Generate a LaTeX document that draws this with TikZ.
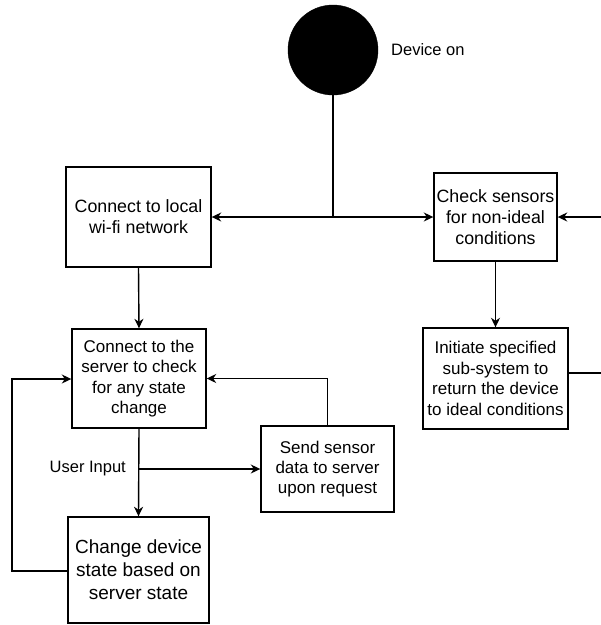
\documentclass[tikz,border=0pt]{standalone}
\usepackage{fontspec}
\setmainfont{Liberation Sans}
\usetikzlibrary{arrows.meta}
\tikzset{
  box/.style={draw=black, line width=1.4pt, fill=white, inner sep=0pt, align=center,
              font=\fontsize{17}{20.4}\selectfont},
  conn/.style={line width=1.4pt, draw=black},
  arr/.style={conn, -{Stealth[length=9.5pt,width=9pt,inset=3pt]}},
  lbl/.style={inner sep=0pt, font=\fontsize{16.5}{19.8}\selectfont},
}
\begin{document}
\begin{tikzpicture}[x=1pt,y=-1pt]
\useasboundingbox (0,0) rectangle (601,625);
\clip (0,0) rectangle (601,625);
\fill[white] (0,0) rectangle (601,625);

% start circle
\node[circle, fill=black, draw=black, minimum size=90pt, inner sep=0pt] (dev) at (333,50) {};
\node[lbl, anchor=west] (devlbl) at (391,50) {Device on};

% boxes
\node[box, minimum width=145pt, minimum height=100pt, font=\fontsize{17.8}{21}\selectfont] (wifi) at (138.5,217)
  {Connect to local\\wi-fi network};
\node[box, minimum width=123pt, minimum height=88pt, font=\fontsize{17.8}{20.7}\selectfont] (check) at (495.5,217)
  {Check sensors\\for non-ideal\\conditions};
\node[box, minimum width=145pt, minimum height=101pt] (init) at (495.5,378.5)
  {Initiate specified\\sub-system to\\return the device\\to ideal conditions};
\node[box, minimum width=134pt, minimum height=99pt] (server) at (139,378.5)
  {Connect to the\\server to check\\for any state\\change};
\node[box, minimum width=133pt, minimum height=86pt] (send) at (327.5,469)
  {Send sensor\\data to server\\upon request};
\node[box, minimum width=141pt, minimum height=106pt, font=\fontsize{19}{23}\selectfont] (change) at (138.5,570)
  {Change device\\state based on\\server state};

% junctions and free ends
\coordinate (j1) at (333,217);
\coordinate (ui) at (139,469);
\coordinate (r1) at (630,373);
\coordinate (r2) at (630,217);
\coordinate (l1) at (12,571);
\coordinate (l2) at (12,379);
\node[lbl, anchor=east] (uilbl) at (126,469) {User Input};

% connectors
\draw[conn] (dev.south) -- (j1);
\draw[arr] (j1) -- (wifi.east);
\draw[arr] (j1) -- (check.west);
\draw[arr] (wifi.south) -- (server.north);
\draw[arr] (check.south) -- (init.north);
\draw[arr] (init.east |- r1) -- (r1) -- (r2) -- (check.east);
\draw[arr] (server.south) -- (change.north);
\draw[arr] (ui) -- (send.west);
\draw[arr] (send.north) -- (send.north |- server.east) -- (server.east);
\draw[arr] (change.west |- l1) -- (l1) -- (l2) -- (server.west |- l2);
\end{tikzpicture}
\end{document}
